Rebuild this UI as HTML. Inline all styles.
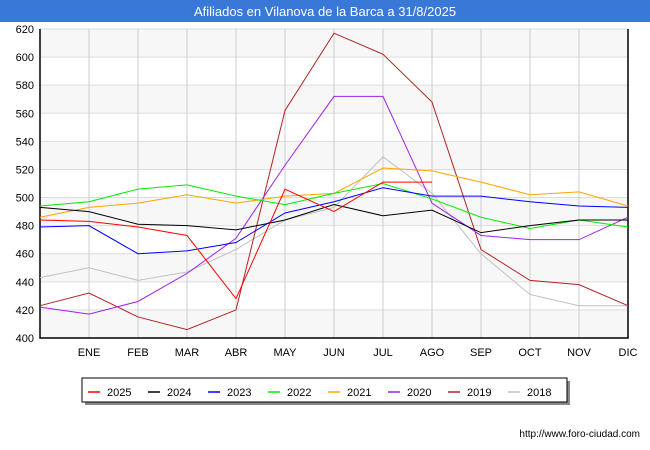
<!DOCTYPE html>
<html><head><meta charset="utf-8"><style>
body{margin:0;width:650px;height:450px;background:#fff;font-family:"Liberation Sans",sans-serif;overflow:hidden}
</style></head><body>
<svg width="650" height="450" style="position:absolute;left:0;top:0">
<rect x="0" y="0" width="650" height="22" fill="#3a78d8"/>
<text x="325" y="16" text-anchor="middle" fill="#fff" font-size="13">Afiliados en Vilanova de la Barca a 31/8/2025</text>
<g id="plot"></g>
<text x="640" y="437" text-anchor="end" font-size="10" fill="#000">http://www.foro-ciudad.com</text>
</svg>
<script>
const months=["","ENE","FEB","MAR","ABR","MAY","JUN","JUL","AGO","SEP","OCT","NOV","DIC"];
const yTicks=[400,420,440,460,480,500,520,540,560,580,600,620];
const seriesNames=["2025","2024","2023","2022","2021","2020","2019","2018"];
const colors=["#ff0000","#000000","#0000ff","#00ee00","#ffa500","#a020f0","#b22222","#c0c0c0"];
const s2025=[484,483,479,473,428,506,490,511,511];
const s2024=[493,490,481,480,477,484,495,487,491,475,480,484,484];
const s2023=[479,480,460,462,468,489,497,507,501,501,497,494,493];
const s2022=[494,497,506,509,501,495,503,510,499,486,478,484,479];
const s2021=[486,493,496,502,496,501,503,521,519,511,502,504,494];
const s2020=[422,417,426,446,471,523,572,572,496,473,470,470,486];
const s2019=[423,432,415,406,420,562,617,602,568,463,441,438,423];
const s2018=[443,450,441,447,463,484,493,529,503,460,431,423,423];
const allSeries=[s2025,s2024,s2023,s2022,s2021,s2020,s2019,s2018];
const X0=40,X1=628,Y0=338,Y1=29;
const xs=i=>X0+i*(X1-X0)/(months.length-1);
const ys=v=>Y0-(v-400)*(Y0-Y1)/220;
const NS="http://www.w3.org/2000/svg";
const g=document.getElementById('plot');
function mk(t,a,p){const e=document.createElementNS(NS,t);for(const k in a)e.setAttribute(k,a[k]);(p||g).appendChild(e);return e;}
for(let i=0;i<yTicks.length-1;i++){
 const r=mk('rect',{x:X0,y:ys(yTicks[i+1]),width:X1-X0,height:ys(yTicks[i])-ys(yTicks[i+1]),fill:i%2==0?'#f7f7f7':'#ffffff'});
 
 
}
yTicks.forEach(v=>{
 const l=mk('line',{x1:X0,x2:X1,y1:ys(v),y2:ys(v),stroke:'#dddddd'});
 
 
 const t=mk('text',{x:X0-6,y:ys(v)+4,'text-anchor':'end','font-size':11,fill:'#000'});t.textContent=v;
 
 
});
months.forEach((m,i)=>{
 if(i>0){const l=mk('line',{x1:xs(i),x2:xs(i),y1:Y1,y2:Y0,stroke:'#cccccc'});
 
 }
 const t=mk('text',{x:xs(i),y:Y0+18,'text-anchor':'middle','font-size':11,fill:'#000'});t.textContent=m;
 
 
});
const ax=mk('path',{d:`M${X0} ${Y1}V${Y0}H${X1}V${Y1}`,fill:'none',stroke:'#000','stroke-width':1.5});


for(let k=allSeries.length-1;k>=0;k--){
 const d=allSeries[k].map((v,i)=>(i?'L':'M')+xs(i)+' '+ys(v)).join('');
 const p=mk('path',{d:d,fill:'none',stroke:colors[k],'stroke-width':1});
 
 
}
const lg=mk('g',{});


mk('rect',{x:85,y:381,width:485,height:24,fill:'#888'},lg);
mk('rect',{x:82,y:378,width:485,height:24,fill:'#fff',stroke:'#000'},lg);
seriesNames.forEach((n,i)=>{
 const x=88+i*60;
 const e=mk('g',{},lg);
 
 
 mk('line',{x1:x,x2:x+12,y1:392,y2:392,stroke:colors[i],'stroke-width':1.5},e);
 const t=mk('text',{x:x+19,y:396,'font-size':11,fill:'#000'},e);t.textContent=n;
});
</script>
</body></html>
